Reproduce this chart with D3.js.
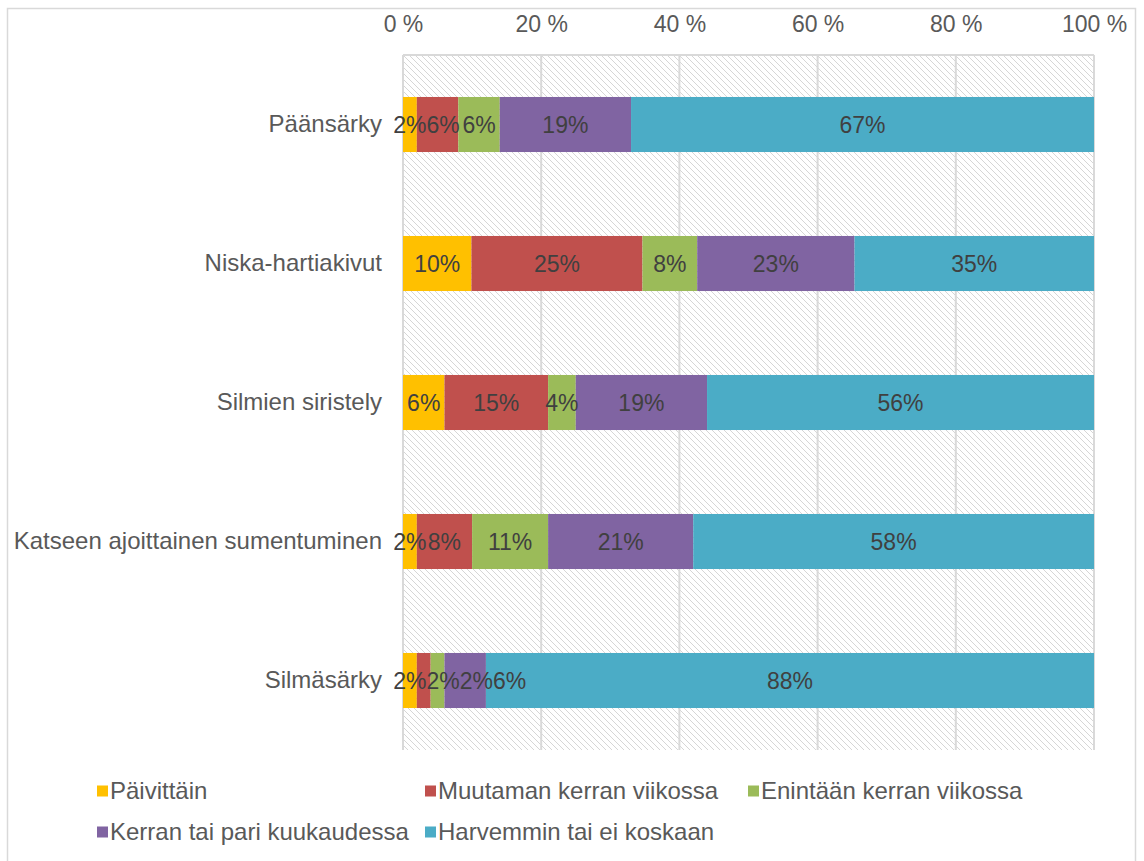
<!DOCTYPE html>
<html><head><meta charset="utf-8">
<script src="https://cdn.jsdelivr.net/npm/d3@7"></script>
<style>
body{margin:0;background:#fff;}
svg{display:block;font-family:"Liberation Sans",Arial,sans-serif;}
</style></head>
<body>
<svg id="c" width="1144" height="861"></svg>
<script>
const categories = ["Päänsärky","Niska-hartiakivut","Silmien siristely","Katseen ajoittainen sumentuminen","Silmäsärky"];
const seriesNames = ["Päivittäin","Muutaman kerran viikossa","Enintään kerran viikossa","Kerran tai pari kuukaudessa","Harvemmin tai ei koskaan"];
const seriesColors = ["#FFC000","#C0504D","#9BBB59","#8064A2","#4BACC6"];
const paivittain = [2,10,6,2,2];
const muutaman = [6,25,15,8,2];
const enintaan = [6,8,4,11,2];
const kerran = [19,23,19,21,6];
const harvemmin = [67,35,56,58,88];
const tickValues = [0,0.2,0.4,0.6,0.8,1];

const seriesValues = [paivittain,muutaman,enintaan,kerran,harvemmin];
const rows = categories.map((c,i)=>{const o={cat:c}; seriesNames.forEach((s,j)=>o[s]=seriesValues[j][i]); return o;});
const stack = d3.stack().keys(seriesNames).offset(d3.stackOffsetExpand)(rows);

const svg = d3.select("#c");
const L=403,R=1094,T=55,B=750;
const x = d3.scaleLinear().domain([0,1]).range([L,R]);
const y = d3.scaleBand().domain(categories).range([T,B]).paddingInner(0.604).paddingOuter(0.302);

// outer border
svg.append("rect").attr("x",7.5).attr("y",8.5).attr("width",1128).attr("height",870).attr("fill","none").attr("stroke","#d9d9d9").attr("stroke-width",1.5);

const defs = svg.append("defs");
const pat = defs.append("pattern").attr("id","hatch").attr("patternUnits","userSpaceOnUse").attr("width",6).attr("height",6);
pat.append("rect").attr("width",6).attr("height",6).attr("fill","#fff");
pat.append("path").attr("d","M-1,-1 L7,7 M-1,5 L1,7 M5,-1 L7,1").attr("stroke","#d6d6d6").attr("stroke-width",1);

svg.append("rect").attr("x",L).attr("y",T).attr("width",R-L).attr("height",B-T).attr("fill","url(#hatch)");

// gridlines
svg.append("g").selectAll("line").data(tickValues).join("line")
  .attr("x1",d=>x(d)).attr("x2",d=>x(d)).attr("y1",T).attr("y2",B)
  .attr("stroke","#d9d9d9").attr("stroke-width",2);
svg.append("line").attr("x1",L).attr("x2",R).attr("y1",T).attr("y2",T).attr("stroke","#d9d9d9").attr("stroke-width",2);

// top axis
const ax = svg.append("g").attr("transform",`translate(0,${T})`)
  .call(d3.axisTop(x).tickValues(tickValues).tickFormat(d=>Math.round(d*100)+" %").tickSize(0).tickPadding(23));
ax.select(".domain").remove();
ax.selectAll("text").attr("font-size",23).attr("fill","#595959").attr("font-family","Liberation Sans, Arial, sans-serif");

// category axis
const ay = svg.append("g").attr("transform",`translate(${L},0)`)
  .call(d3.axisLeft(y).tickSize(0).tickPadding(21));
ay.select(".domain").remove();
ay.selectAll("text").attr("font-size",24).attr("fill","#595959").attr("font-family","Liberation Sans, Arial, sans-serif");

// bars
const g = svg.append("g");
stack.forEach((s,j)=>{
  g.append("g").selectAll("rect").data(s).join("rect")
    .attr("x",d=>x(d[0])).attr("width",d=>x(d[1])-x(d[0]))
    .attr("y",d=>y(d.data.cat)).attr("height",y.bandwidth())
    .attr("fill",seriesColors[j]);
});
// labels, pushed right when they would collide (as the original's label placement does)
const lblG = svg.append("g");
categories.forEach((c,i)=>{
  let prevRight = -Infinity;
  stack.forEach((s,j)=>{
    const d = s[i];
    const t = lblG.append("text")
      .attr("y",y(c)+y.bandwidth()/2).attr("dy","0.35em").attr("text-anchor","start")
      .attr("font-size",23).attr("fill","#404040")
      .text(d.data[seriesNames[j]]+"%");
    const w = t.node().getComputedTextLength();
    const cx = (x(d[0])+x(d[1]))/2;
    let left = Math.max(cx - w/2, prevRight);
    t.attr("x",left);
    prevRight = left + w;
  });
});

// legend
const legendPos = [[97,791],[425,791],[748,791],[97,832],[425,832]];
const lg = svg.append("g");
seriesNames.forEach((s,i)=>{
  const [lx,ly]=legendPos[i];
  lg.append("rect").attr("x",lx).attr("y",ly-5.5).attr("width",11).attr("height",11).attr("fill",seriesColors[i]);
  lg.append("text").attr("x",lx+13).attr("y",ly).attr("dy","0.35em").attr("font-size",24).attr("fill","#595959")
    .text(s);
});
</script>
</body></html>
